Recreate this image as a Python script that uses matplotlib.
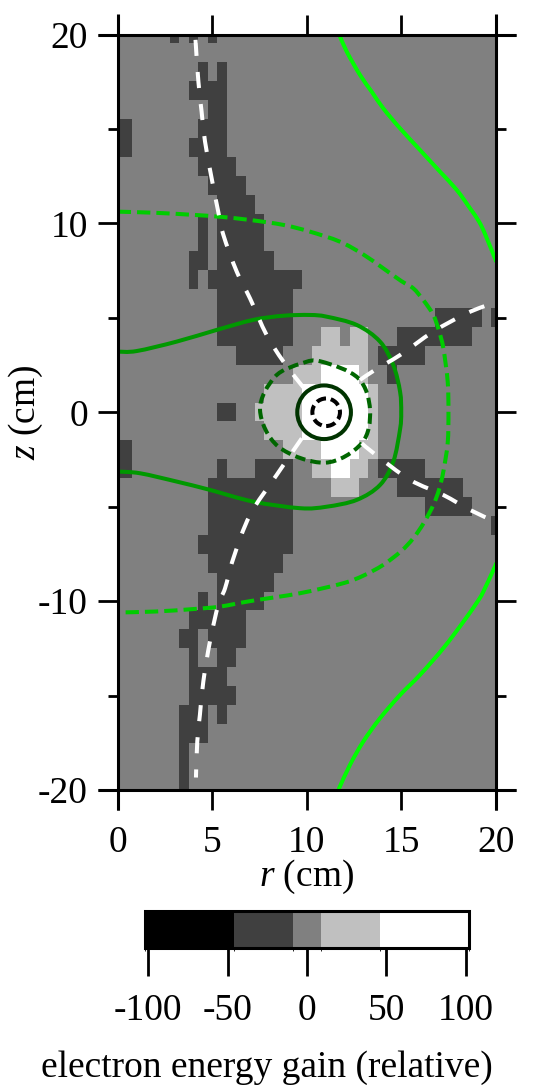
import numpy as np
import matplotlib
matplotlib.use("Agg")
import matplotlib.pyplot as plt
from matplotlib.colors import ListedColormap, BoundaryNorm
from matplotlib.patches import Circle, PathPatch
from matplotlib.path import Path

plt.rcParams['font.family'] = ['Liberation Serif', 'DejaVu Serif']
plt.rcParams['mathtext.fontset'] = 'custom'
plt.rcParams['mathtext.rm'] = 'Liberation Serif'
plt.rcParams['mathtext.it'] = 'Liberation Serif:italic'
plt.rcParams['axes.unicode_minus'] = False

# ---------------- data ----------------
r_values = np.arange(0, 20.01, 0.5)      # cell centres in r (cm)
z_values = np.arange(20, -20.01, -1.0)   # cell centres in z (cm), top row first

# one string per z row (z = 20 ... -20), one char per r column (r = 0 ... 20)
# k: < -46, d: -46..-9, .: -9..9, l: 9..46, w: > 46
gain_rows = [
    "......d.d.d",                                  # 20
    "",                                             # 19
    ".........d.d",                                 # 18
    "........dddd",                                 # 17
    "..........dd",                                 # 16
    "dd.......ddd",                                 # 15
    "dd......dddd",                                 # 14
    ".........dddd",                                # 13
    "..........dddd",                               # 12
    "...........dddd",                              # 11
    ".........d.ddddd",                             # 10
    ".........d.ddddd",                             # 9
    "........dd.dddddd",                            # 8
    "........d.dddddddddd",                         # 7
    "...........dddddddd",                          # 6
    "...........dddddddd...............ddddd.d",    # 5
    "...........dddddddd...ll.ll...dddddddd",       # 4
    ".............ddddd...llllll.ddddd",            # 3
    "...................lllwwwwl..d",               # 2
    "................llllwwwwwwwl",                 # 1
    "...........dd..lllllwwwwwwwl",                 # 0
    "................llllwwwwwwwl",                 # -1
    "dd................llllwwwwll",                 # -2
    "dd.........d...dddd..llwwll.ddddd",            # -3
    "..........ddddddddd....lll....ddddddd",        # -4
    "..........ddddddddd..............ddddd",       # -5
    "..........ddddddddd.....................d",    # -6
    ".........dddddddddd",                          # -7
    "..........dddddddd",                           # -8
    "...........dddddd",                            # -9
    ".........d.ddddd",                             # -10
    "........dddddd",                               # -11
    ".......dd.dddd",                               # -12
    "........d..dd",                                # -13
    "........dddd",                                 # -14
    "........ddddd",                                # -15
    ".......ddd.d",                                 # -16
    ".......ddd",                                   # -17
    ".......d",                                     # -18
    ".......d",                                     # -19
    ".......d",                                     # -20
]
level_values = {'k': -75, 'd': -30, '.': 0, 'l': 30, 'w': 75}
level_bounds = [-102, -46, -9, 9, 46, 102]
level_colors = ['#000000', '#404040', '#808080', '#c0c0c0', '#ffffff']
cbar_ticks = [-100, -50, 0, 50, 100]

x_ticks = [0, 5, 10, 15, 20]
y_ticks = [-20, -10, 0, 10, 20]
y_minor_ticks = [-15, -5, 5, 15]

# contour curves (r, z) in cm
lime_top_r = [11.72, 12.12, 12.82, 13.44, 14.05, 14.94, 15.99, 17.05, 17.94, 18.64, 19.12, 19.45, 19.96, 20.0]
lime_top_z = [20.0, 19.09, 17.86, 16.97, 16.09, 15.03, 13.89, 12.74, 11.77, 10.8, 10.09, 9.4, 8.15, 8.05]
lime_bot_r = [20.0, 19.96, 19.43, 19.12, 18.29, 17.23, 15.99, 14.94, 13.88, 12.99, 12.29, 11.72, 11.68]
lime_bot_z = [-8.05, -8.17, -9.32, -9.9, -11.09, -12.49, -13.91, -14.97, -16.2, -17.44, -18.67, -19.9, -20.0]

outer_dash_r = [0.0, 2.0, 4.0, 5.41, 7.0, 8.76, 10.18, 11.76, 13.0, 14.05, 15.0, 15.64, 16.2, 16.7, 17.0, 17.23,
                17.46, 17.5, 17.46, 17.23, 17.0, 16.7, 16.2, 15.64, 15.0, 14.05, 13.0, 11.94, 9.65, 7.0, 5.41,
                4.0, 2.0, 0.0]
outer_dash_z = [10.62, 10.56, 10.45, 10.35, 10.18, 9.92, 9.56, 9.03, 8.35, 7.62, 6.95, 6.56, 5.9, 5.15, 4.3, 3.39,
                1.62, 0.0, -1.62, -3.14, -4.1, -4.91, -5.85, -6.67, -7.35, -8.08, -8.65, -9.05, -9.58, -10.0, -10.29,
                -10.42, -10.55, -10.6]

mid_solid_r = [0.0, 1.0, 3.12, 5.24, 7.17, 8.76, 10.17, 11.06, 12.65, 13.88, 14.58, 14.94, 15.0, 14.94,
               14.58, 13.88, 12.65, 11.06, 9.65, 7.17, 4.88, 3.12, 1.18, 0.0]
mid_solid_z = [3.21, 3.24, 3.74, 4.36, 4.89, 5.11, 5.15, 5.06, 4.62, 3.74, 2.5, 1.09, 0.0, -0.9,
               -2.62, -3.85, -4.64, -5.0, -5.08, -4.73, -4.11, -3.67, -3.23, -3.14]

# closed dashed contour around the ring
inner_dash_r = [10.79, 12.73, 13.35, 12.91, 10.97, 8.5, 7.53, 8.32, 9.74]
inner_dash_z = [2.68, 1.8, 0.12, -1.64, -2.67, -1.82, 0.12, 1.88, 2.59]

ring_center = (10.92, 0.0)
ring_radius = 1.42
core_center = (11.03, 0.0)
core_radius = 0.73

white_ul_r = [9.82, 8.77, 7.88, 7.0, 6.3, 5.59, 5.32, 4.97, 4.62, 4.44, 4.27, 4.14, 4.1]
white_ul_z = [1.32, 2.68, 4.09, 6.03, 7.44, 9.39, 10.62, 12.39, 14.33, 15.91, 17.5, 19.35, 20.0]
white_ll_r = [9.74, 8.41, 7.0, 6.12, 5.68, 5.32, 4.88, 4.53, 4.35, 4.21, 4.14]
white_ll_z = [-1.38, -3.32, -5.44, -7.73, -9.32, -10.2, -12.14, -14.26, -16.02, -17.44, -19.34]
white_ur_r = [12.82, 13.61, 14.94, 16.7, 18.47, 19.96, 20.0]
white_ur_z = [1.71, 2.24, 3.03, 4.27, 5.24, 5.82, 5.84]
white_lr_r = [12.91, 13.61, 15.47, 17.23, 18.64, 19.96, 20.0]
white_lr_z = [-1.64, -2.22, -3.58, -4.38, -5.17, -5.79, -5.81]


def smooth_path(xs, ys, closed=False):
    """Smooth Bezier path (Catmull-Rom style) through the given points."""
    P = np.column_stack([xs, ys]).astype(float)
    n = len(P)
    if closed:
        idx = lambda i: P[i % n]
        segs = n
    else:
        idx = lambda i: P[min(max(i, 0), n - 1)]
        segs = n - 1
    verts = [P[0]]
    codes = [Path.MOVETO]
    for i in range(segs):
        p0, p1, p2, p3 = idx(i - 1), idx(i), idx(i + 1), idx(i + 2)
        verts += [p1 + (p2 - p0) / 6, p2 - (p3 - p1) / 6, p2]
        codes += [Path.CURVE4] * 3
    return Path(verts, codes)


# ---------------- figure ----------------
W, H = 535, 1085
FS = 27
fig = plt.figure(figsize=(W / 100, H / 100), dpi=100)
L, R, T, B = 117.7, 495.7, 34.5, 790.0
ax = fig.add_axes([L / W, 1 - B / H, (R - L) / W, (B - T) / H])

vals = np.array([[level_values[ch] for ch in row.ljust(len(r_values), '.')[:len(r_values)]]
                 for row in gain_rows], float)
cmap = ListedColormap(level_colors)
norm = BoundaryNorm(level_bounds, cmap.N)
dr = (r_values[1] - r_values[0]) / 2
dz = abs(z_values[1] - z_values[0]) / 2
im = ax.imshow(vals, cmap=cmap, norm=norm, interpolation='nearest', aspect='auto', origin='upper',
               extent=[r_values[0] - dr, r_values[-1] + dr, z_values[-1] - dz, z_values[0] + dz])

LW = 2.9


def curve(xs, ys, color, ls='-', closed=False):
    ax.add_patch(PathPatch(smooth_path(xs, ys, closed), fill=False, edgecolor=color, lw=LW, ls=ls,
                           capstyle='butt', joinstyle='round'))


curve(lime_top_r, lime_top_z, '#00ff00')
curve(lime_bot_r, lime_bot_z, '#00ff00')
curve(outer_dash_r, outer_dash_z, '#00cc00', ls=(0, (3.3, 1.5)))
curve(mid_solid_r, mid_solid_z, '#009900')
curve(inner_dash_r, inner_dash_z, '#006600', ls=(0, (2.6, 1.3)), closed=True)
ax.add_patch(Circle(ring_center, ring_radius, fill=False, edgecolor='#003300', lw=LW))
ax.add_patch(Circle(core_center, core_radius, fill=False, edgecolor='#000000', lw=LW, ls=(0, (2.4, 1.2))))
for rr, zz in [(white_ul_r, white_ul_z), (white_ll_r, white_ll_z), (white_ur_r, white_ur_z),
               (white_lr_r, white_lr_z)]:
    curve(rr, zz, 'white', ls=(0, (4.0, 4.0)))

ax.set_xlim(0, 20)
ax.set_ylim(-20, 20)
ax.set_xticks(x_ticks)
ax.set_yticks(y_ticks)
ax.set_yticks(y_minor_ticks, minor=True)
ax.tick_params(which='major', direction='out', length=14.4, width=2, top=True, right=True,
               labelsize=FS, colors='black')
ax.tick_params(axis='x', which='major', pad=11)
ax.tick_params(axis='y', which='major', pad=7)
ax.tick_params(which='minor', direction='out', length=7.2, width=2, right=True, left=True)
for s in ax.spines.values():
    s.set_visible(False)
ex = 20 / (R - L)
ey = 20 / (B - T)
frame_kw = dict(color='black', lw=2.2, transform=ax.transAxes, clip_on=False, solid_capstyle='butt')
ax.plot([0, 0], [-ey, 1 + ey], **frame_kw)
ax.plot([1, 1], [-ey, 1 + ey], **frame_kw)
ax.plot([-ex, 1 + ex], [0, 0], **frame_kw)
ax.plot([-ex, 1 + ex], [1, 1], **frame_kw)

fig.text(306.7 / W, 1 - 877 / H, r'$r$ (cm)', ha='center', va='center', fontsize=FS)
fig.text(26 / W, 1 - 412 / H, r'$z$ (cm)', ha='center', va='center', rotation=90, fontsize=FS)

cax = fig.add_axes([145 / W, 1 - 948 / H, 324 / W, 37 / H])
cb = fig.colorbar(im, cax=cax, orientation='horizontal', spacing='proportional', ticks=cbar_ticks)
cb.outline.set_linewidth(2.2)
cax.tick_params(direction='out', length=20, width=2, labelsize=FS, pad=13)
fig.text(267 / W, 1 - 1068 / H, 'electron energy gain (relative)', ha='center', va='center', fontsize=FS)

fig.savefig('out.png', dpi=100)
